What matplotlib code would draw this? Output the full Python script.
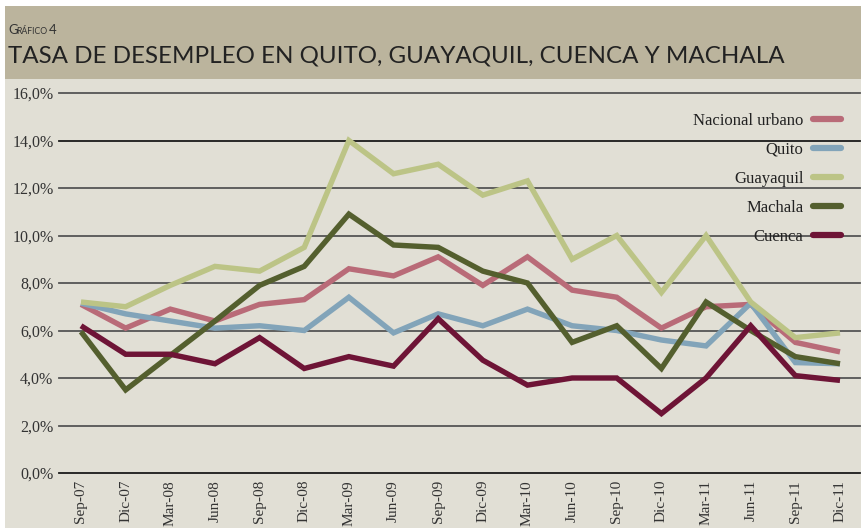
import matplotlib
matplotlib.use("Agg")
import matplotlib.pyplot as plt
from matplotlib.patches import Rectangle
from matplotlib.lines import Line2D

categories = ["Sep-07", "Dic-07", "Mar-08", "Jun-08", "Sep-08", "Dic-08", "Mar-09", "Jun-09",
              "Sep-09", "Dic-09", "Mar-10", "Jun-10", "Sep-10", "Dic-10", "Mar-11", "Jun-11",
              "Sep-11", "Dic-11"]

nacional = [7.1, 6.1, 6.9, 6.4, 7.1, 7.3, 8.6, 8.3, 9.1, 7.9, 9.1, 7.7, 7.4, 6.1, 7.0, 7.1, 5.5, 5.1]
quito = [7.15, 6.7, 6.4, 6.1, 6.2, 6.0, 7.4, 5.9, 6.7, 6.2, 6.9, 6.2, 6.0, 5.6, 5.35, 7.15, 4.65, 4.6]
guayaquil = [7.2, 7.0, 7.9, 8.7, 8.5, 9.5, 14.0, 12.6, 13.0, 11.7, 12.3, 9.0, 10.0, 7.6, 10.0, 7.2, 5.7, 5.9]
machala = [5.95, 3.5, 4.95, 6.4, 7.9, 8.7, 10.9, 9.6, 9.5, 8.5, 8.0, 5.5, 6.2, 4.4, 7.2, 6.0, 4.9, 4.6]
cuenca = [6.2, 5.0, 5.0, 4.6, 5.7, 4.4, 4.9, 4.5, 6.5, 4.75, 3.7, 4.0, 4.0, 2.5, 4.0, 6.2, 4.1, 3.9]

series_names = ["Nacional urbano", "Quito", "Guayaquil", "Machala", "Cuenca"]
series_values = [nacional, quito, guayaquil, machala, cuenca]
colors = ["#b96b78", "#82a4b9", "#bcc486", "#545f2e", "#6e1436"]

yticks = [0, 2, 4, 6, 8, 10, 12, 14, 16]
ytick_labels = ["0,0%", "2,0%", "4,0%", "6,0%", "8,0%", "10,0%", "12,0%", "14,0%", "16,0%"]

W, H = 862, 528
fig = plt.figure(figsize=(W / 100, H / 100), dpi=100)
fig.patch.set_facecolor("white")

# background panels
fig.patches.append(Rectangle((5 / W, 0), 1 - 5 / W, (H - 79) / H, transform=fig.transFigure,
                             facecolor="#e1dfd5", edgecolor="none", zorder=-5))
fig.patches.append(Rectangle((5 / W, (H - 79) / H), 1 - 5 / W, 73 / H, transform=fig.transFigure,
                             facecolor="#bbb49d", edgecolor="none", zorder=-5))

# title texts
fig.text(8 / W, 1 - 34 / H, "G", fontsize=9.5, family="Lato", color="#333333", va="baseline")
fig.text(16.5 / W, 1 - 34 / H, "RÁFICO", fontsize=6.3, family="Lato", color="#333333", va="baseline")
fig.text(49 / W, 1 - 34 / H, "4", fontsize=9.5, family="Lato", color="#333333", va="baseline")
fig.text(8 / W, 1 - 62 / H, "TASA DE DESEMPLEO EN QUITO, GUAYAQUIL, CUENCA Y MACHALA",
         fontsize=17.4, family="Lato", color="#222222", va="baseline")

x0, x1 = 59, 860
ytop, ybot = 93, 473
ax = fig.add_axes([x0 / W, (H - ybot) / H, (x1 - x0) / W, (ybot - ytop) / H])
ax.set_facecolor("none")
n = len(categories)
step = (840 - 81) / (n - 1)
ax.set_xlim(-(81 - x0) / step, (n - 1) + (x1 - 840) / step)
ax.set_ylim(0, 16)

for y in yticks:
    ax.axhline(y, color="#1a1a1a" if y in (0, 14) else "#555555", lw=1.3, zorder=1, clip_on=False)

xs = list(range(n))
handles = []
for name, vals, c in zip(series_names, series_values, colors):
    ax.plot(xs, vals, color=c, lw=3.9, solid_joinstyle="miter", solid_capstyle="butt", zorder=3, label=name)
    handles.append(Line2D([0], [0], color=c, lw=4.5, solid_capstyle="round"))

for s in ax.spines.values():
    s.set_visible(False)
ax.set_yticks(yticks)
ax.set_yticklabels(ytick_labels, family="Liberation Serif", fontsize=11.5, color="#333333")
ax.set_xticks(xs)
ax.set_xticklabels(categories, rotation=90, family="Liberation Serif", fontsize=11, color="#333333")
ax.tick_params(axis="both", length=0)
ax.tick_params(axis="y", pad=4)
ax.tick_params(axis="x", pad=5)

leg = ax.legend(handles, series_names, loc="upper right",
                bbox_to_anchor=((841 - x0) / (x1 - x0), 1 - (113 - ytop) / (ybot - ytop)),
                frameon=False, markerfirst=False, handlelength=1.7, handletextpad=0.55,
                labelspacing=0.78, borderaxespad=0, borderpad=0,
                prop={"family": "Liberation Serif", "size": 12})
for t in leg.get_texts():
    t.set_color("#222222")

fig.savefig("out.png", dpi=100)
